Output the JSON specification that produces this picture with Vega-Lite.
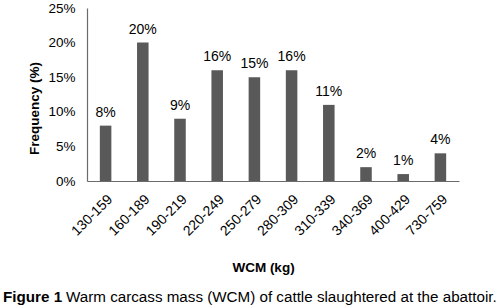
{
  "$schema": "https://vega.github.io/schema/vega-lite/v6.json",
  "padding": {"left": 3, "top": 1, "right": 0, "bottom": 0},
  "background": "white",
  "bounds": "flush",
  "spacing": 136,
  "config": {
    "font": "Liberation Sans",
    "view": {"stroke": null}
  },
  "vconcat": [
    {
      "width": 372,
      "height": 173,
      "data": {
        "values": [
          {"WCM": "130-159", "Frequency": 0.08},
          {"WCM": "160-189", "Frequency": 0.20},
          {"WCM": "190-219", "Frequency": 0.09},
          {"WCM": "220-249", "Frequency": 0.16},
          {"WCM": "250-279", "Frequency": 0.15},
          {"WCM": "280-309", "Frequency": 0.16},
          {"WCM": "310-339", "Frequency": 0.11},
          {"WCM": "340-369", "Frequency": 0.02},
          {"WCM": "400-429", "Frequency": 0.01},
          {"WCM": "730-759", "Frequency": 0.04}
        ]
      },
      "encoding": {
        "x": {
          "field": "WCM",
          "type": "nominal",
          "sort": null,
          "scale": {"paddingInner": 0.69, "paddingOuter": 0.345},
          "axis": {
            "title": "WCM (kg)",
            "titleFontSize": 13.5,
            "titleFontWeight": "bold",
            "titleColor": "#000000",
            "titleX": 176,
            "titleY": 90,
            "titleBaseline": "alphabetic",
            "labelAngle": -45,
            "labelAlign": "right",
            "labelBaseline": "top",
            "labelFontSize": 14,
            "labelColor": "#000000",
            "labelPadding": 11,
            "ticks": false,
            "domainColor": "#6b6b6b",
            "domainWidth": 1.2
          }
        },
        "y": {
          "field": "Frequency",
          "type": "quantitative",
          "scale": {"domain": [0, 0.25]},
          "axis": {
            "title": "Frequency (%)",
            "titleFontSize": 13.5,
            "titleFontWeight": "bold",
            "titleColor": "#000000",
            "titleX": -49,
            "titleY": 100,
            "titleAngle": -90,
            "titleBaseline": "alphabetic",
            "values": [0, 0.05, 0.1, 0.15, 0.2, 0.25],
            "format": ".0%",
            "labelFontSize": 13.5,
            "labelColor": "#000000",
            "labelPadding": 12,
            "ticks": false,
            "grid": false,
            "domainColor": "#6b6b6b",
            "domainWidth": 1.2
          }
        }
      },
      "layer": [
        {"mark": {"type": "bar", "color": "#595959"}},
        {
          "mark": {"type": "text", "dy": -9, "fontSize": 14, "color": "#000000", "baseline": "alphabetic"},
          "encoding": {"text": {"field": "Frequency", "format": ".0%"}}
        }
      ]
    },
    {
      "bounds": "flush",
      "spacing": 62,
      "hconcat": [
        {
          "width": 1,
          "height": 1,
          "data": {"values": []},
          "mark": "text",
          "title": {
            "text": "Figure 1",
            "orient": "top",
            "anchor": "start",
            "frame": "group",
            "dx": -84,
            "offset": 0,
            "baseline": "alphabetic",
            "fontSize": 15.2,
            "fontWeight": "bold",
            "color": "#000000"
          }
        },
        {
          "width": 1,
          "height": 1,
          "data": {"values": []},
          "mark": "text",
          "title": {
            "text": "Warm carcass mass (WCM) of cattle slaughtered at the abattoir.",
            "orient": "top",
            "anchor": "start",
            "frame": "group",
            "dx": -84,
            "offset": 0,
            "baseline": "alphabetic",
            "fontSize": 15.2,
            "fontWeight": "normal",
            "color": "#000000"
          }
        }
      ]
    }
  ]
}
